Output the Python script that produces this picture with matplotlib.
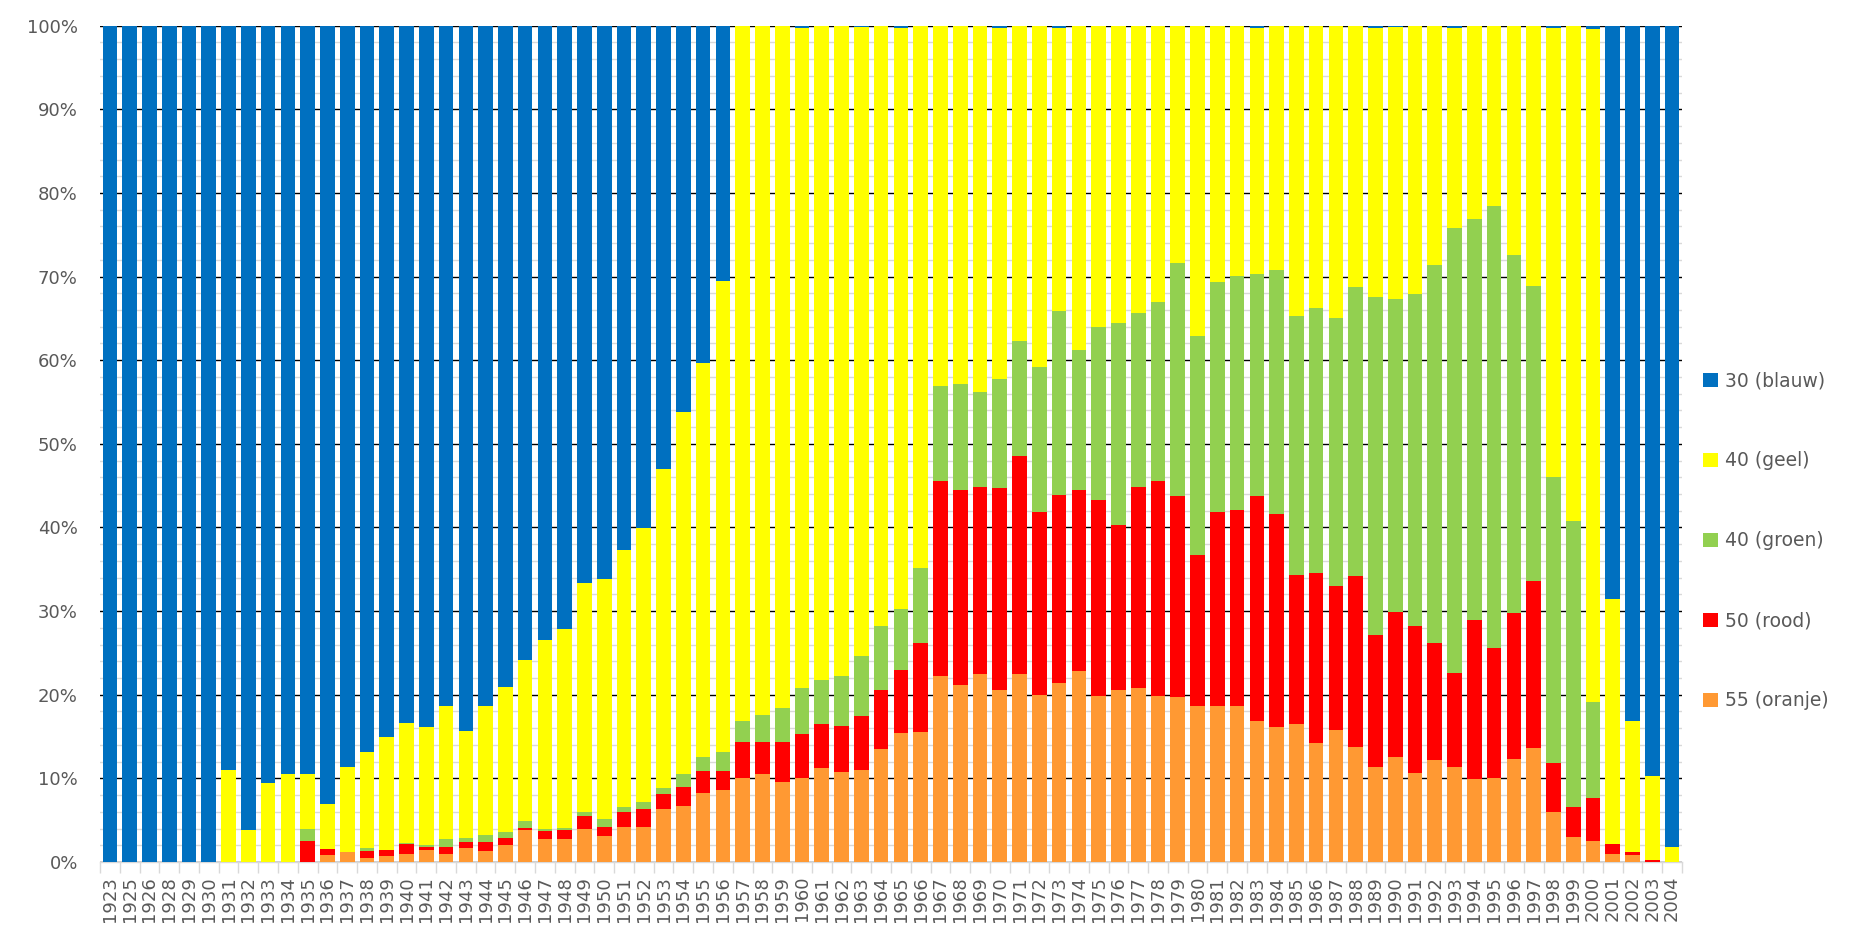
import matplotlib
matplotlib.use("Agg")
import matplotlib.pyplot as plt
from matplotlib.patches import Patch
import numpy as np

years = ["1923", "1925", "1926", "1928", "1929", "1930", "1931", "1932", "1933", "1934",
         "1935", "1936", "1937", "1938", "1939", "1940", "1941", "1942", "1943", "1944",
         "1945", "1946", "1947", "1948", "1949", "1950", "1951", "1952", "1953", "1954",
         "1955", "1956", "1957", "1958", "1959", "1960", "1961", "1962", "1963", "1964",
         "1965", "1966", "1967", "1968", "1969", "1970", "1971", "1972", "1973", "1974",
         "1975", "1976", "1977", "1978", "1979", "1980", "1981", "1982", "1983", "1984",
         "1985", "1986", "1987", "1988", "1989", "1990", "1991", "1992", "1993", "1994",
         "1995", "1996", "1997", "1998", "1999", "2000", "2001", "2002", "2003", "2004"]

oranje = [0, 0, 0, 0, 0, 0, 0, 0, 0, 0,
          0, 0.8, 1.2, 0.5, 0.7, 1.0, 1.4, 0.9, 1.7, 1.3,
          2.0, 3.8, 2.7, 2.7, 4.0, 3.1, 4.2, 4.2, 6.3, 6.7,
          8.2, 8.6, 10.0, 10.5, 9.6, 10.0, 11.2, 10.8, 11.0, 13.5,
          15.4, 15.5, 22.3, 21.2, 22.5, 20.6, 22.5, 20.0, 21.4, 22.8,
          19.9, 20.6, 20.8, 19.9, 19.7, 18.7, 18.7, 18.6, 16.9, 16.1,
          16.5, 14.2, 15.8, 13.8, 11.4, 12.5, 10.6, 12.2, 11.4, 9.9,
          10.0, 12.3, 13.6, 6.0, 3.0, 2.5, 1.0, 0.8, 0, 0]

rood = [0, 0, 0, 0, 0, 0, 0, 0, 0, 0,
        2.5, 0.8, 0, 0.8, 0.7, 1.1, 0.4, 0.85, 0.7, 1.1,
        0.9, 0.3, 1.0, 1.1, 1.5, 1.1, 1.8, 2.1, 1.8, 2.3,
        2.7, 2.3, 4.4, 3.9, 4.7, 5.3, 5.3, 5.5, 6.5, 7.1,
        7.5, 10.7, 23.2, 23.3, 22.4, 24.1, 26.0, 21.8, 22.5, 21.7,
        23.4, 19.7, 24.1, 25.6, 24.1, 18.0, 23.2, 23.5, 26.9, 25.5,
        17.8, 20.3, 17.2, 20.4, 15.7, 17.4, 17.6, 14.0, 11.2, 19.0,
        15.6, 17.5, 20.0, 5.8, 3.6, 5.2, 1.2, 0.4, 0.2, 0]

groen = [0, 0, 0, 0, 0, 0, 0, 0, 0, 0,
         1.4, 0, 0, 0.4, 0, 0.2, 0.2, 0.95, 0.5, 0.8,
         0.7, 0.8, 0.3, 0.3, 0.5, 0.9, 0.6, 0.9, 0.8, 1.5,
         1.6, 2.2, 2.5, 3.2, 4.1, 5.5, 5.3, 6.0, 7.1, 7.6,
         7.3, 8.9, 11.4, 12.7, 11.3, 13.1, 13.8, 17.4, 22.0, 16.7,
         20.7, 24.2, 20.7, 21.5, 27.8, 26.2, 27.4, 28.0, 26.5, 29.2,
         31.0, 31.7, 32.1, 34.6, 40.5, 37.4, 39.7, 45.2, 53.2, 48.0,
         52.9, 42.8, 35.3, 34.2, 34.2, 11.4, 0, 0, 0, 0]

geel = [0, 0, 0, 0, 0, 0, 11.0, 3.8, 9.5, 10.5,
        6.6, 5.3, 10.1, 11.4, 13.5, 14.3, 14.2, 15.9, 12.8, 15.4,
        17.3, 19.2, 22.6, 23.8, 27.4, 28.7, 30.7, 32.7, 38.1, 43.3,
        47.2, 56.4, 83.1, 82.4, 81.6, 78.9, 78.2, 77.7, 75.2, 71.8,
        69.5, 64.9, 43.1, 42.8, 43.8, 41.9, 37.7, 40.8, 33.8, 38.8,
        36.0, 35.5, 34.4, 33.0, 28.4, 37.1, 30.7, 29.9, 29.4, 29.2,
        34.7, 33.8, 34.9, 31.2, 32.1, 32.5, 32.1, 28.6, 23.9, 23.1,
        21.5, 27.4, 31.1, 53.7, 59.2, 80.5, 29.2, 15.7, 10.1, 1.8]

blauw = [100, 100, 100, 100, 100, 100, 89.0, 96.2, 90.5, 89.5,
         89.5, 93.1, 88.7, 86.9, 85.1, 83.4, 83.8, 81.4, 84.3, 81.4,
         79.1, 75.9, 73.4, 72.1, 66.6, 66.2, 62.7, 60.1, 53.0, 46.2,
         40.3, 30.5, 0, 0, 0, 0.3, 0, 0, 0.2, 0,
         0.3, 0, 0, 0, 0, 0.3, 0, 0, 0.3, 0,
         0, 0, 0, 0, 0, 0, 0, 0, 0.3, 0,
         0, 0, 0, 0, 0.3, 0.2, 0, 0, 0.3, 0,
         0, 0, 0, 0.3, 0, 0.4, 68.6, 83.1, 89.7, 98.2]

series = [
    ("55 (oranje)", oranje, "#FF9933"),
    ("50 (rood)", rood, "#FF0000"),
    ("40 (groen)", groen, "#92D050"),
    ("40 (geel)", geel, "#FFFF00"),
    ("30 (blauw)", blauw, "#0070C0"),
]

plt.rcParams['font.family'] = ['DejaVu Sans']
TXT = "#595959"

fig = plt.figure(figsize=(18.56, 9.39), dpi=100)
ax = fig.add_axes([100 / 1856, 1 - 862 / 939, 1582 / 1856, (862 - 25.7) / 939])

x = np.arange(len(years))
bottom = np.zeros(len(years))
for label, vals, col in series:
    v = np.array(vals, dtype=float)
    ax.bar(x, v, bottom=bottom, width=0.74, color=col, label=label, linewidth=0, zorder=3)
    bottom += v

ax.set_xlim(-0.5, len(years) - 0.5)
ax.set_ylim(0, 100)

ax.set_yticks(np.arange(0, 101, 10))
ax.set_yticklabels([f"{v}%" for v in range(0, 101, 10)])
ax.set_yticks(np.arange(0, 101, 2), minor=True)
ax.grid(axis='y', which='major', color='#000000', linewidth=1.0, zorder=0)
ax.grid(axis='y', which='minor', color='#D9D9D9', linewidth=1.0, zorder=0)
ax.set_axisbelow(True)

ax.set_xticks(x)
ax.set_xticklabels(years, rotation=90)
ax.set_xticks(np.arange(-0.5, len(years), 1), minor=True)
ax.tick_params(axis='x', which='major', length=0, pad=10, labelsize=13, labelcolor=TXT)
ax.tick_params(axis='x', which='minor', length=8, color='#D9D9D9', width=1)
ax.tick_params(axis='y', which='both', length=0, pad=16, labelsize=13, labelcolor=TXT)

for s in ['left', 'top', 'right']:
    ax.spines[s].set_visible(False)
ax.spines['bottom'].set_color('#D9D9D9')
ax.spines['bottom'].set_linewidth(1)

handles = [Patch(facecolor=col, edgecolor='none', label=lab) for lab, _, col in series[::-1]]
fig.legend(handles=handles, loc='center left', bbox_to_anchor=(0.9135, 0.424),
           frameon=False, fontsize=13.5, labelcolor=TXT, labelspacing=3.25,
           handlelength=0.8, handleheight=0.8, handletextpad=0.4, borderaxespad=0)

fig.savefig("out.png", dpi=100)
